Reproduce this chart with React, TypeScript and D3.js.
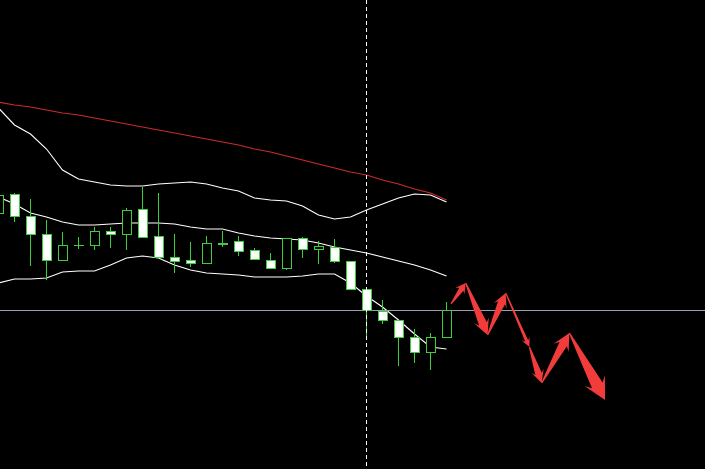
import * as d3 from 'd3'

// bar prices (chart points), one entry per bar
const OPEN = [287, 306, 284, 266, 240, 255, 255, 269, 266, 291, 264, 243, 240, 237, 257, 259, 250, 240, 232, 262, 251, 253, 239, 211, 189, 180, 163, 148, 163]
const HIGH = [308, 307, 301, 280, 268, 263, 273, 273, 292, 313, 307, 266, 258, 264, 269, 264, 252, 247, 262, 263, 259, 261, 239, 211, 200, 180, 171, 167, 198]
const LOW = [284, 278, 234, 220, 239, 251, 250, 252, 250, 263, 243, 227, 233, 237, 253, 244, 241, 232, 230, 242, 236, 237, 211, 162, 176, 134, 137, 130, 163]
const CLOSE = [305, 284, 266, 240, 255, 255, 269, 266, 290, 263, 243, 239, 237, 257, 256, 249, 241, 232, 262, 251, 254, 239, 211, 190, 180, 163, 148, 163, 190]

// bollinger bands + slow moving average
const BB_UPPER = [392, 375, 366, 351, 330, 321, 318, 315, 314, 314, 316, 317, 318, 316, 312, 309, 302, 300, 299, 294, 285, 281, 283, 290, 296, 302, 306, 305, 298]
const BB_MIDDLE = [303, 296, 287, 283, 278, 275, 275, 276, 277, 277, 277, 276, 273, 271, 271, 267, 264, 262, 261, 260, 257, 253, 250, 247, 243, 239, 235, 230, 224]
const BB_LOWER = [217, 221, 221, 222, 228, 229, 229, 235, 242, 244, 242, 235, 230, 227, 226, 225, 223, 223, 223, 224, 226, 226, 217, 204, 193, 180, 166, 153, 151]
const MA_SLOW = [398, 395, 393, 390, 387, 385, 382, 379, 376, 373, 370, 367, 364, 361, 358, 355, 351, 348, 344, 340, 336, 332, 328, 325, 320, 316, 311, 307, 300]

// forecast zigzag (bar position, price)
const FORECAST_BAR = [28.28, 29.2, 30.57, 31.7, 33.18, 33.95, 35.68, 37.91]
const FORECAST_PRICE = [196, 217, 165, 207, 153, 117, 167, 100]

const BID = 190
const CURSOR_BAR = 23

const W = 705
const H = 469
const GREEN = '#3ecf3e'
const RED = '#f23c3c'

// head length, head half width, shaft half width for each forecast arrow
const ARROW_STYLE = [
  [10, 5.5, 2.6],
  [16, 8, 4.2],
  [14, 7, 3.8],
  [9, 4.2, 1.6],
  [13, 6.5, 3.4],
  [17, 8.5, 4.2],
  [22, 11.5, 6],
]

function arrowPath(ax: number, ay: number, bx: number, by: number, s: number[]) {
  const [head, half, shaft] = s
  const dx = bx - ax
  const dy = by - ay
  const len = Math.hypot(dx, dy)
  const ux = dx / len
  const uy = dy / len
  const nx = -uy
  const ny = ux
  const p = (t: number, w: number) => [ax + ux * t + nx * w, ay + uy * t + ny * w]
  const pts = [
    p(0, 0.6),
    p(len - head * 0.75, shaft),
    p(len - head, half),
    [bx, by],
    p(len - head, -half),
    p(len - head * 0.75, -shaft),
    p(0, -0.6),
  ]
  return 'M' + pts.map(q => q.join(',')).join('L') + 'Z'
}

export default function App() {
  const x = d3.scaleLinear().domain([0, 28]).range([-1.5, 446.5])
  const y = d3.scaleLinear().domain([31, 500]).range([H, 0])

  const line = d3.line<number>()
    .x((_, i) => x(i))
    .y(d => y(d))

  const bodyW = 9

  return (
    <svg
      width={W}
      height={H}
      style={{ position: 'absolute', left: 0, top: 0, background: '#000' }}
    >
      <rect width={W} height={H} fill="#000" />

      {/* indicators */}
      <path d={line(MA_SLOW) || ''} fill="none" stroke="#cc2b2b" strokeWidth={1.2} />
      {[BB_UPPER, BB_MIDDLE, BB_LOWER].map((band, k) => (
        <path key={k} d={line(band) || ''} fill="none" stroke="#fff" strokeWidth={1.1} />
      ))}

      {/* bid line */}
      <line x1={0} x2={W} y1={Math.round(y(BID)) + 0.5} y2={Math.round(y(BID)) + 0.5} stroke="#98a0b4" strokeWidth={1} />

      {/* candles */}
      <g shapeRendering="crispEdges">
        {OPEN.map((o, i) => {
          const c = CLOSE[i]
          const cx = x(i)
          const top = y(Math.max(o, c))
          const bot = y(Math.min(o, c))
          const bull = c > o
          return (
            <g key={i}>
              <line x1={cx} x2={cx} y1={y(HIGH[i])} y2={y(LOW[i])} stroke={GREEN} strokeWidth={1} />
              <rect
                x={cx - bodyW / 2}
                y={top}
                width={bodyW}
                height={Math.max(bot - top, 0.5)}
                fill={bull ? '#000' : '#fff'}
                stroke={GREEN}
                strokeWidth={1}
              />
            </g>
          )
        })}
      </g>

      {/* cursor line */}
      <line
        x1={x(CURSOR_BAR)}
        x2={x(CURSOR_BAR)}
        y1={0}
        y2={H}
        stroke="#fff"
        strokeWidth={1}
        strokeDasharray="4,3"
        shapeRendering="crispEdges"
      />

      {/* forecast arrows */}
      {FORECAST_BAR.slice(1).map((b, k) => (
        <path
          key={k}
          d={arrowPath(
            x(FORECAST_BAR[k]), y(FORECAST_PRICE[k]),
            x(b), y(FORECAST_PRICE[k + 1]),
            ARROW_STYLE[k]
          )}
          fill={RED}
        />
      ))}
    </svg>
  )
}
